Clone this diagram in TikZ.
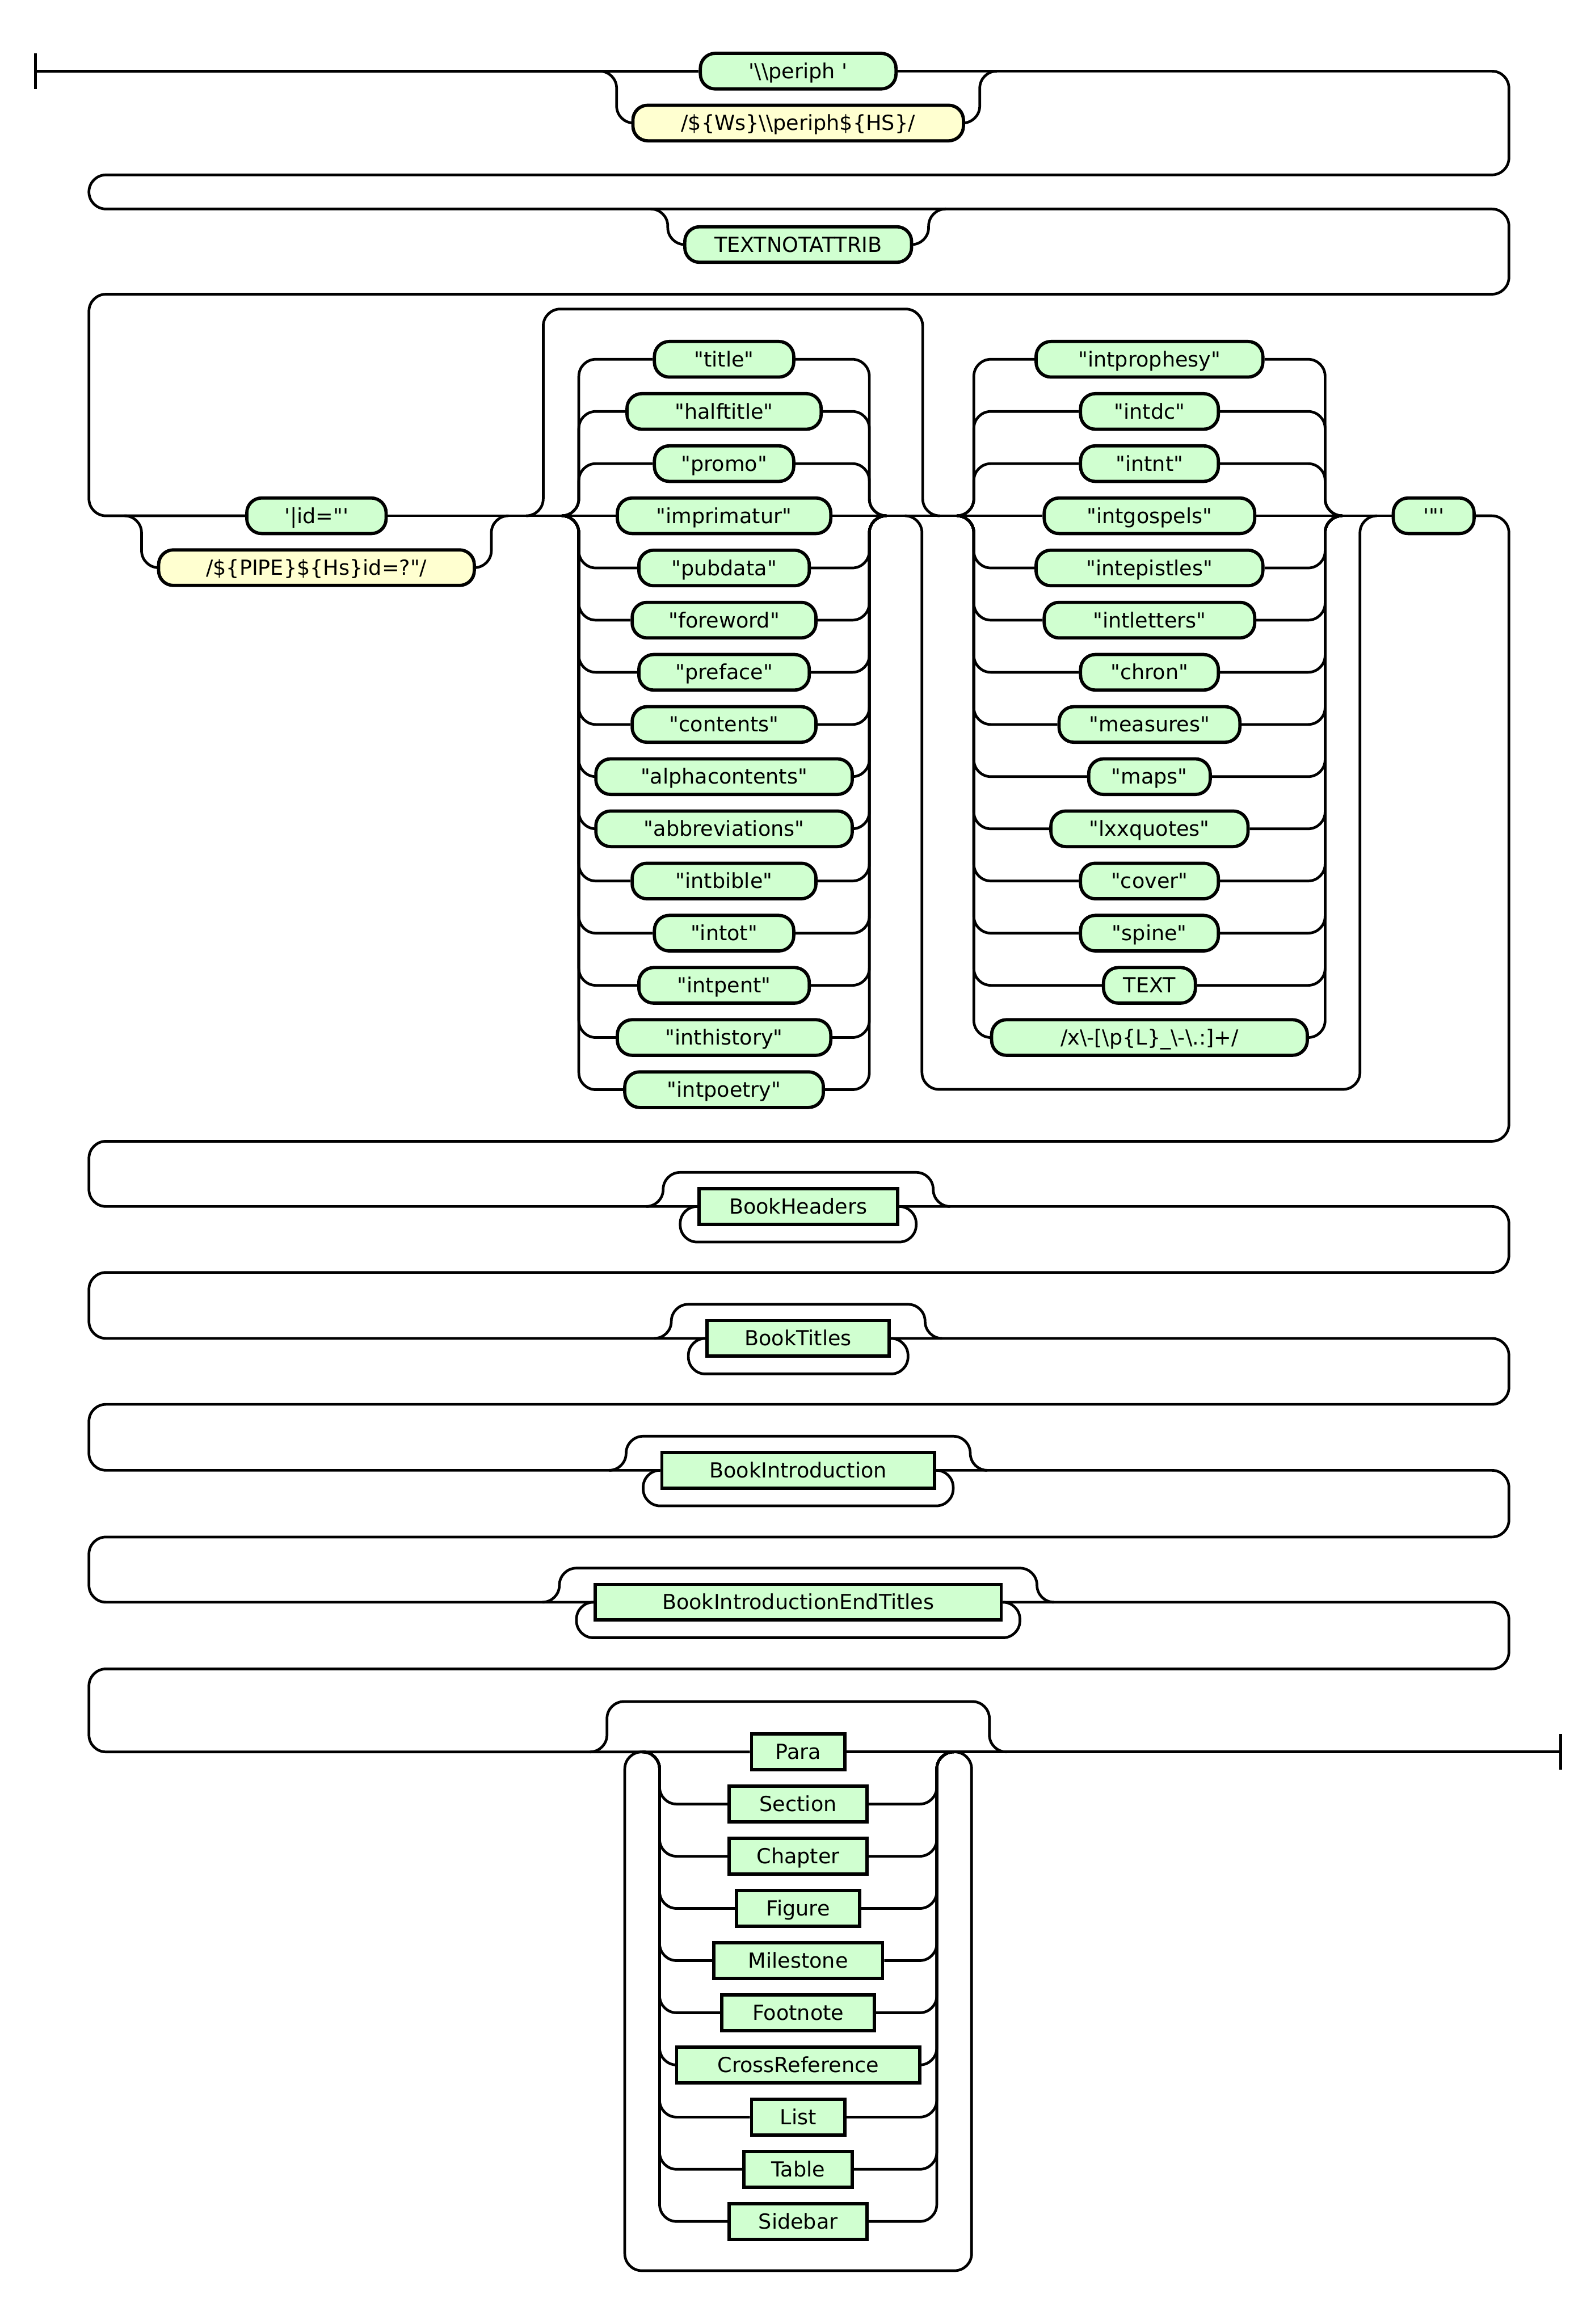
\documentclass[tikz,border=0pt]{standalone}
\usepackage{fontspec}
\newfontfamily\rrfont{DejaVu Sans}
\usetikzlibrary{calc}
\definecolor{termgreen}{RGB}{208,255,208}
\definecolor{rxyellow}{RGB}{255,255,208}
\pgfdeclarelayer{background}
\pgfsetlayers{background,main}
\begin{document}
\begin{tikzpicture}[x=1pt,y=-1pt,
  track/.style={line width=1.8pt,rounded corners=11.5pt},
  boxbase/.style={draw,line width=2.2pt,minimum height=24pt,inner sep=0pt,
     text height=11.5pt,text depth=1.5pt,font=\rrfont\fontsize{14}{16}\selectfont},
  term/.style={boxbase,fill=termgreen,rounded corners=10pt},
  rx/.style={boxbase,fill=rxyellow,rounded corners=10pt},
  nonterm/.style={boxbase,fill=termgreen},
  endbar/.style={line width=1.8pt}]
\useasboundingbox (0,0) rectangle (1076,1568);

% ---------------- nodes ----------------
\coordinate (start) at (24,48);
\node[term,minimum width=132] (periph) at (538.5,48) {'\textbackslash\textbackslash{}periph '};
\node[rx,minimum width=223] (ws) at (538.5,83) {/\$\{Ws\}\textbackslash\textbackslash{}periph\$\{HS\}/};
\coordinate (c1in) at (404.5,48);
\coordinate (c1out) at (672.5,48);

\node[term,minimum width=153] (tna) at (538.5,165) {TEXTNOTATTRIB};
\coordinate (o1in) at (439,141);
\coordinate (o1out) at (638,141);

\node[term,minimum width=94] (pid) at (213.5,348) {'|id="'};
\node[rx,minimum width=213] (pipe) at (213.5,383) {/\$\{PIPE\}\$\{Hs\}id=?"/};
\coordinate (idin) at (84,348);
\coordinate (idout) at (343,348);

\coordinate (o2in) at (355,348);
\coordinate (o2out) at (634,348);
\coordinate (lin) at (379,348);
\coordinate (lout) at (598,348);
\foreach \t/\w [count=\k] in {"title"/94,"halftitle"/131,"promo"/94,"imprimatur"/144,"pubdata"/115,"foreword"/124,"preface"/115,"contents"/124,"alphacontents"/173,"abbreviations"/173,"intbible"/124,"intot"/94,"intpent"/115,"inthistory"/144,"intpoetry"/134}
  \node[term,minimum width=\w] (l\k) at (488.5,{348+(\k-4)*35.2}) {\t};

\coordinate (o3in) at (610.5,348);
\coordinate (o3out) at (929,348);
\coordinate (rin) at (645.5,348);
\coordinate (rout) at (905.5,348);
\foreach \t/\w [count=\k] in {"intprophesy"/153,"intdc"/93,"intnt"/93,"intgospels"/142,"intepistles"/153,"intletters"/142,"chron"/93,"measures"/122,"maps"/82,"lxxquotes"/133,"cover"/93,"spine"/93,TEXT/62}
  \node[term,minimum width=\w] (r\k) at (775.5,{348+(\k-4)*35.2}) {\t};
\node[term,minimum width=213] (r14) at (775.5,700) {/x\textbackslash-[\textbackslash{}p\{L\}\_\textbackslash-\textbackslash.:]+/};

\node[term,minimum width=54.5] (dq) at (967.25,348) {'"'};

\node[nonterm,minimum width=134] (bh) at (538.5,814) {BookHeaders};
\node[nonterm,minimum width=123] (bt) at (538.5,903) {BookTitles};
\node[nonterm,minimum width=184] (bi) at (538.5,992) {BookIntroduction};
\node[nonterm,minimum width=274] (biet) at (538.5,1081) {BookIntroductionEndTitles};

\coordinate (pin) at (433.5,1182);
\coordinate (pout) at (643.5,1182);
\foreach \t/\w [count=\k] in {Para/63,Section/93,Chapter/93,Figure/83,Milestone/114,Footnote/103,CrossReference/164,List/63,Table/73,Sidebar/93}
  \node[nonterm,minimum width=\w] (p\k) at (538.5,{1182+(\k-1)*35.2}) {\t};
\coordinate (finish) at (1053,1182);

% ---------------- tracks ----------------
\begin{pgfonlayer}{background}
\draw[endbar] (24,36) -- (24,60);
\draw[endbar] (1053,1170) -- (1053,1194);

% row 1
\draw[track] (start) -- (periph.west);
\draw[track] (c1in) -- ++(11.5,0) |- (ws.west);
\draw[track] (ws.east) -| ([xshift=-11.5pt]c1out) -- (c1out);
% rows 1-3 wrap, with optional TEXTNOTATTRIB skip
\draw[track] (periph.east) -- (1018,48) -- (1018,118) -- (60,118) -- (60,141)
   -- (1018,141) -- (1018,198.5) -- (60,198.5) -- (60,348) -- (pid.west);
\draw[track] (o1in) -- ++(11.5,0) |- (tna.west);
\draw[track] (tna.east) -| ([xshift=-11.5pt]o1out) -- (o1out);

% id choice
\draw[track] (idin) -- ++(11.5,0) |- (pipe.west);
\draw[track] (pipe.east) -| ([xshift=-11.5pt]idout) -- (idout);
\draw[track] (pid.east) -- (l4.west);

% optional bypass above left column
\draw[track] (o2in) -- ++(11.5,0) -- ++(0,-139.5) -| ([xshift=-11.5pt]o2out) -- (o2out);
% left column
\foreach \k in {1,2,3,5,6,7,8,9,10,11,12,13,14,15} {
  \draw[track] (lin) -- ++(11.5,0) |- (l\k.west);
  \draw[track] (l\k.east) -| ([xshift=-11.5pt]lout) -- (lout);
}
\draw[track] (l4.east) -- (r4.west);

% bypass below right column
\draw[track] (o3in) -- ++(11.5,0) -- ++(0,387) -| ([xshift=-11.5pt]o3out) -- (o3out);
% right column
\foreach \k in {1,2,3,5,6,7,8,9,10,11,12,13,14} {
  \draw[track] (rin) -- ++(11.5,0) |- (r\k.west);
  \draw[track] (r\k.east) -| ([xshift=-11.5pt]rout) -- (rout);
}
\draw[track] (r4.east) -- (dq.west);

% wraps through the nonterminal rows
\draw[track] (dq.east) -- (1018,348) -- (1018,770) -- (60,770) -- (60,814) -- (bh.west);
\draw[track] (bh.east) -- (1018,814) -- (1018,858.5) -- (60,858.5) -- (60,903) -- (bt.west);
\draw[track] (bt.east) -- (1018,903) -- (1018,947.5) -- (60,947.5) -- (60,992) -- (bi.west);
\draw[track] (bi.east) -- (1018,992) -- (1018,1037) -- (60,1037) -- (60,1081) -- (biet.west);
\draw[track] (biet.east) -- (1018,1081) -- (1018,1126) -- (60,1126) -- (60,1182) -- (p1.west);
\draw[track] (p1.east) -- (finish);

% zero-or-more around each nonterminal
\foreach \n in {bh,bt,bi,biet} {
  \draw[track] ([xshift=-34.5pt]\n.west) -- ++(11.5,0) -- ++(0,-23) -| ([xshift=23pt]\n.east) -- ([xshift=34.5pt]\n.east);
  \draw[track] (\n.west) -- ++(-11.5,0) -- ++(0,24) -| ([xshift=11.5pt]\n.east) -- (\n.east);
}

% Para group: bypass, choice, loop
\draw[track] (398,1182) -- (409.5,1182) -- (409.5,1148) -- (667.5,1148) -- (667.5,1182) -- (679,1182);
\foreach \k in {2,3,4,5,6,7,8,9,10} {
  \draw[track] (pin) -- ++(11.5,0) |- (p\k.west);
  \draw[track] (p\k.east) -| ([xshift=-11.5pt]pout) -- (pout);
}
\draw[track] (pout) -- ++(12,0) -- (655.5,1532) -| ([xshift=-12pt]pin) -- (pin);
\end{pgfonlayer}
\end{tikzpicture}
\end{document}
